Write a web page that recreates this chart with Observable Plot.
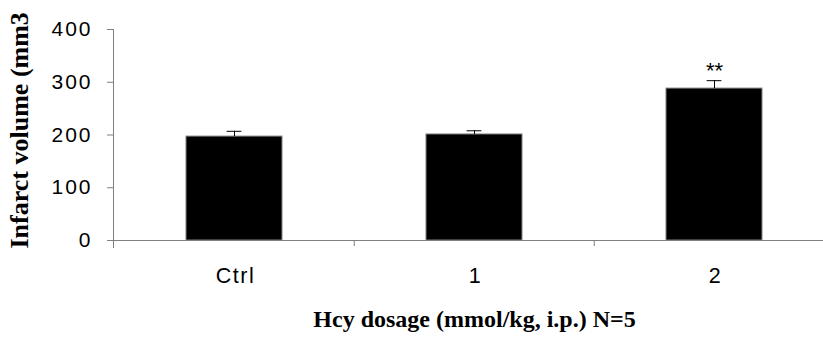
<!DOCTYPE html>
<html>
<head>
<meta charset="utf-8">
<script src="https://cdn.jsdelivr.net/npm/d3@7"></script>
<script src="https://cdn.jsdelivr.net/npm/@observablehq/plot@0.6"></script>
<style>
  html, body { margin: 0; padding: 0; background: #fff; overflow: hidden; }
  #chart svg { display: block; }
  #chart g[aria-label="y-axis tick label"] text { font-size: 21px; letter-spacing: 2px; }
  #chart g[aria-label="x-axis tick label"] text { font-size: 21.5px; letter-spacing: 1.5px; }
</style>
</head>
<body>
<div id="chart"></div>
<script>
const categories = ["Ctrl", "1", "2"];
const means = [197, 201, 288];
const errors = [10, 7, 15];
const marks = ["", "", "**"];
const yTicks = [0, 100, 200, 300, 400];
const yLabel = "Infarct volume (mm3";
const xLabel = "Hcy dosage (mmol/kg, i.p.) N=5";

const data = categories.map((c, i) => ({cat: c, mean: means[i], err: errors[i], top: means[i] + errors[i], mark: marks[i]}));
const dividers = categories.slice(1);

const axisGray = "#808080";
const sans = "'Liberation Sans', Arial, sans-serif";
const serif = "'Liberation Serif', 'Times New Roman', serif";

const chart = Plot.plot({
  width: 823,
  height: 337,
  marginLeft: 113,
  marginRight: 0,
  marginTop: 29,
  marginBottom: 97,
  style: {background: "#fff", overflow: "visible", fontFamily: sans, fontSize: "21px"},
  x: {domain: categories, range: [113, 834.5], paddingInner: 0.6, paddingOuter: 0.3, axis: null},
  y: {domain: [0, 400], axis: null},
  marks: [
    Plot.barY(data, {x: "cat", y: "mean", fill: "#000", stroke: axisGray, strokeWidth: 1}),
    Plot.ruleX(data, {x: "cat", y1: "mean", y2: "top", stroke: "#000", strokeWidth: 1}),
    Plot.tickY(data, {x: "cat", y: "top", stroke: "#000", strokeWidth: 1, insetLeft: 40.6, insetRight: 40.6}),
    Plot.text(data, {x: "cat", y: "top", text: "mark", dy: -3, lineAnchor: "bottom", fontSize: 22, fontFamily: sans, fill: "#000"}),
    Plot.ruleY([0], {stroke: axisGray, strokeWidth: 1}),
    Plot.frame({anchor: "left", stroke: axisGray, strokeWidth: 1, insetBottom: -7}),
    Plot.ruleX(dividers, {x: d => d, y1: 0, y2: 0, dx: -120.25, insetBottom: -6, stroke: axisGray, strokeWidth: 1}),
    Plot.axisY({ticks: yTicks, tickSize: 6, tickPadding: 15, stroke: axisGray, fontSize: 21, fontFamily: sans, color: "#000", label: null}),
    Plot.axisX({tickSize: 0, tickPadding: 27, fontSize: 21.5, fontFamily: sans, dx: 1, color: "#000", label: null}),
    Plot.text([yLabel], {frameAnchor: "bottom-left", dx: -86, dy: 8, rotate: -90, textAnchor: "start", text: d => d, fontSize: 26, fontWeight: "bold", fontFamily: serif, fill: "#000"}),
    Plot.text([xLabel], {x: () => "1", y: 0, dy: 86, text: d => d, lineAnchor: "bottom", fontSize: 24, fontWeight: "bold", fontFamily: serif, fill: "#000"})
  ]
});
document.getElementById("chart").appendChild(chart);
</script>
</body>
</html>
